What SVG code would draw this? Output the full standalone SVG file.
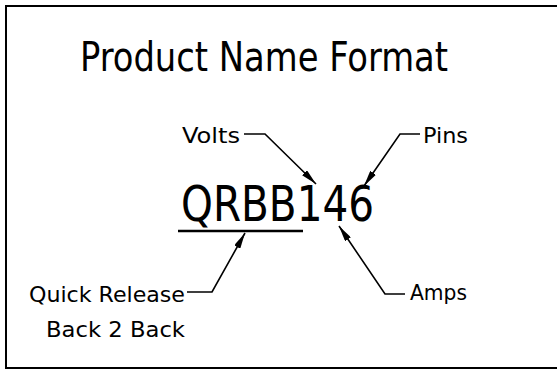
<svg xmlns="http://www.w3.org/2000/svg" width="557" height="369" viewBox="0 0 557 369">
<style>
text{font-family:"DejaVu Sans","Liberation Sans",sans-serif;font-stretch:condensed;fill:#000}
.lbl{font-size:21px}
.ld{fill:none;stroke:#000;stroke-width:1.6}
</style>
<defs>
<marker id="ah" viewBox="0 0 16 7" refX="16" refY="3.5" markerWidth="16" markerHeight="7" markerUnits="userSpaceOnUse" orient="auto">
<path d="M0,0 L16,3.5 L0,7 Z" fill="#000"/>
</marker>
</defs>
<rect id="border" x="6" y="6" width="560" height="362" fill="#fff" stroke="#000" stroke-width="2"/>
<g id="title"><text x="80" y="71" font-size="40" textLength="368" lengthAdjust="spacingAndGlyphs">Product Name Format</text></g>
<g id="code">
<text x="181" y="221" font-size="49" textLength="193" lengthAdjust="spacingAndGlyphs">QRBB146</text>
<line x1="178" y1="231" x2="303" y2="231" stroke="#000" stroke-width="2.6"/>
</g>
<g id="volts"><text class="lbl" x="182" y="143" textLength="58" lengthAdjust="spacingAndGlyphs">Volts</text></g>
<g id="pins"><text class="lbl" x="423" y="143" textLength="45" lengthAdjust="spacingAndGlyphs">Pins</text></g>
<g id="amps"><text class="lbl" x="410" y="300" textLength="57" lengthAdjust="spacingAndGlyphs">Amps</text></g>
<g id="qr">
<text class="lbl" x="29" y="302" textLength="156" lengthAdjust="spacingAndGlyphs">Quick Release</text>
<text class="lbl" x="46" y="337" textLength="139" lengthAdjust="spacingAndGlyphs">Back 2 Back</text>
</g>
<g id="connectors">
<polyline class="ld" points="244,134 265,134 316,184" marker-end="url(#ah)"/>
<polyline class="ld" points="420,134 400,134 364,186" marker-end="url(#ah)"/>
<polyline class="ld" points="405,294 385,294 339,226" marker-end="url(#ah)"/>
<polyline class="ld" points="187,292 212,292 245,233" marker-end="url(#ah)"/>
</g>
</svg>
